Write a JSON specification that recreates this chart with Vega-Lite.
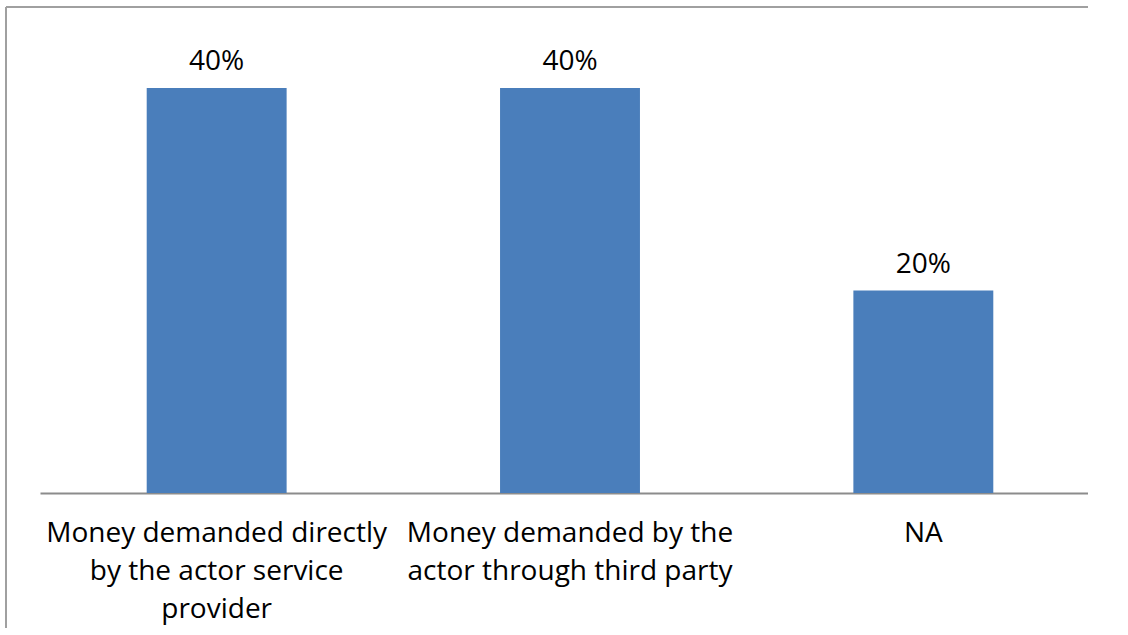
{
  "$schema": "https://vega.github.io/schema/vega-lite/v6.json",
  "autosize": "none",
  "padding": {"left": 6, "top": 7, "right": 0, "bottom": 0},
  "width": 1082,
  "height": 621,
  "background": "white",
  "config": {"view": {"stroke": "#a0a0a0", "strokeWidth": 2, "strokeDash": [1082, 1703, 621, 0]}},
  "data": {"values": [
    {"category": "Money demanded directly|by the actor service|provider", "share": 0.4, "label": "40%"},
    {"category": "Money demanded by the|actor through third party", "share": 0.4, "label": "40%"},
    {"category": "NA", "share": 0.2, "label": "20%"}
  ]},
  "encoding": {
    "x": {
      "field": "category", "type": "nominal", "sort": null,
      "scale": {"range": [34, 1094], "paddingInner": 0.604, "paddingOuter": 0.302},
      "axis": {
        "title": null, "orient": "bottom", "offset": -135,
        "domain": true, "domainColor": "#8c8c8c", "domainWidth": 2,
        "ticks": false, "labelAngle": 0, "labelPadding": 26,
        "labelFont": "Open Sans", "labelFontSize": 28, "labelColor": "#000000",
        "labelLineHeight": 38, "labelLimit": 400,
        "labelExpr": "split(datum.label, '|')"
      }
    },
    "y": {
      "field": "share", "type": "quantitative",
      "scale": {"domain": [-0.133333, 0.48], "nice": false, "zero": false},
      "axis": null
    }
  },
  "layer": [
    {"mark": {"type": "bar", "color": "#4A7EBB"}, "encoding": {"y2": {"datum": 0}}},
    {"mark": {"type": "text", "baseline": "alphabetic", "dy": -18, "font": "Open Sans", "fontSize": 28, "color": "#000000"},
     "encoding": {"text": {"field": "label"}}}
  ]
}
